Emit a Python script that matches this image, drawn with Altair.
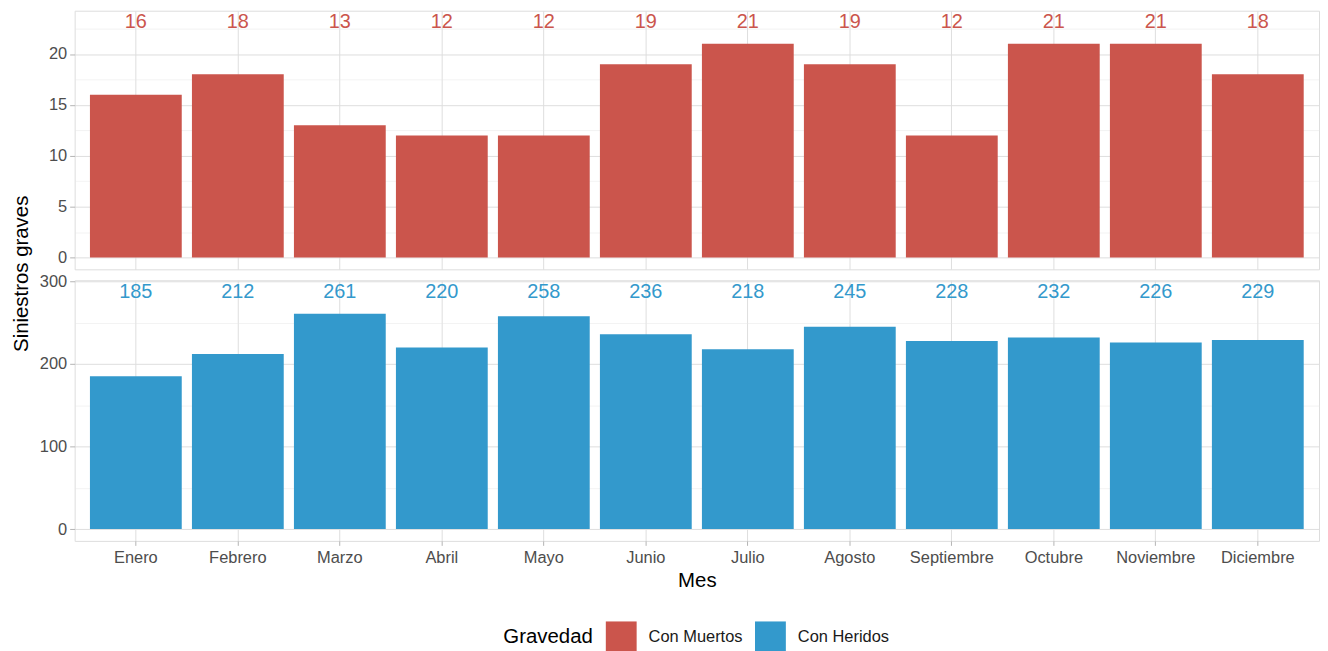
import altair as alt
import pandas as pd

meses = ["Enero", "Febrero", "Marzo", "Abril", "Mayo", "Junio", "Julio",
         "Agosto", "Septiembre", "Octubre", "Noviembre", "Diciembre"]
con_muertos = [16, 18, 13, 12, 12, 19, 21, 19, 12, 21, 21, 18]
con_heridos = [185, 212, 261, 220, 258, 236, 218, 245, 228, 232, 226, 229]
gravedad = ["Con Muertos", "Con Heridos"]
colores = ["#CB554C", "#3399CC"]

ticks_muertos = [0, 2.5, 5, 7.5, 10, 12.5, 15, 17.5, 20, 22.5]
ticks_heridos = [0, 50, 100, 150, 200, 250, 300]

FONT = "Liberation Sans"
GRID = "#DEDEDE"
BORDER = "#B3B3B3"

color_enc = alt.Color(
    "Gravedad:N",
    scale=alt.Scale(domain=gravedad, range=colores),
    legend=alt.Legend(
        title="Gravedad", orient="none", direction="horizontal",
        legendX=431, legendY=614, titleOrient="left",
        symbolType="square", symbolSize=961, symbolStrokeWidth=0,
        symbolOpacity=1, labelFontSize=16.5, titleFontSize=20.5,
        labelFont=FONT, titleFont=FONT, labelColor="#1A1A1A",
        titleColor="#000000", titleFontWeight="normal", labelOffset=12,
        columnPadding=12, titlePadding=12,
    ),
)


def panel(values, grav, ticks, major, bottom, h):
    df = pd.DataFrame({"Mes": meses, "valor": values, "Gravedad": grav})
    test = f"datum.value % {major} === 0"
    yaxis_kw = dict(
        values=ticks,
        labelExpr=f"{test} ? datum.label : ''",
        gridColor={"condition": {"test": test, "value": GRID}, "value": "#E6E6E6"},
        gridWidth={"condition": {"test": test, "value": 1}, "value": 0.5},
        tickOpacity={"condition": {"test": test, "value": 1}, "value": 0},
        tickColor=BORDER, tickSize=5, tickWidth=1, domain=False,
        labelFont=FONT, labelFontSize=16.5, labelColor="#4D4D4D", labelPadding=3,
    )
    if bottom:
        yaxis = alt.Axis(title=None, **yaxis_kw)
    else:
        yaxis = alt.Axis(title="Siniestros graves", titleX=-47, titleY=264,
                         titleAngle=270, titleBaseline="alphabetic",
                         titleFont=FONT, titleFontSize=20.5, titleFontWeight="normal",
                         titleColor="#000000", **yaxis_kw)
    if bottom:
        xaxis = alt.Axis(title="Mes", labelAngle=0, bandPosition=0.5, grid=True,
                         gridColor=GRID, domain=False, tickColor=BORDER, tickSize=4.5,
                         labelFont=FONT, labelFontSize=16.5, labelColor="#4D4D4D",
                         labelPadding=4, titleFont=FONT, titleFontSize=20.5,
                         titleFontWeight="normal", titleColor="#000000", titlePadding=5)
    else:
        xaxis = alt.Axis(title=None, labels=False, ticks=False, domain=False,
                         bandPosition=0.5, grid=True, gridColor=GRID)
    x = alt.X("Mes:N", sort=meses, axis=xaxis,
              scale=alt.Scale(paddingInner=0.1, paddingOuter=0.15))
    yscale = alt.Scale(zero=False, nice=False)
    base = alt.Chart(df).transform_joinaggregate(vmax="max(valor)").transform_calculate(
        ypos="datum.vmax * 1.1",
        ylo="-0.05 * datum.vmax * 1.1",
        yhi="1.05 * datum.vmax * 1.1",
    )
    span = base.mark_bar(opacity=0).encode(
        x=x, y=alt.Y("ylo:Q", scale=yscale, axis=yaxis), y2="yhi:Q")
    bars = base.mark_bar().encode(
        x=x, y=alt.Y("valor:Q", scale=yscale, axis=yaxis, stack=None),
        color=color_enc)
    labels = base.mark_text(font=FONT, fontSize=20, baseline="middle").encode(
        x=x, y=alt.Y("ypos:Q", scale=yscale, axis=yaxis), text="valor:Q",
        color=color_enc)
    return alt.layer(span, bars, labels).properties(width=1251, height=h)


top = panel(con_muertos, gravedad[0], ticks_muertos, 5, False, 260)
bot = panel(con_heridos, gravedad[1], ticks_heridos, 100, True, 262)

chart = alt.vconcat(top, bot, spacing=11, bounds="flush").properties(
    padding={"left": 3, "top": 0, "right": 0, "bottom": 0}
).configure_view(
    stroke=BORDER, strokeWidth=1.6
).configure(background="white")

chart.save("out.html", embed_options={"renderer": "svg", "actions": False})
